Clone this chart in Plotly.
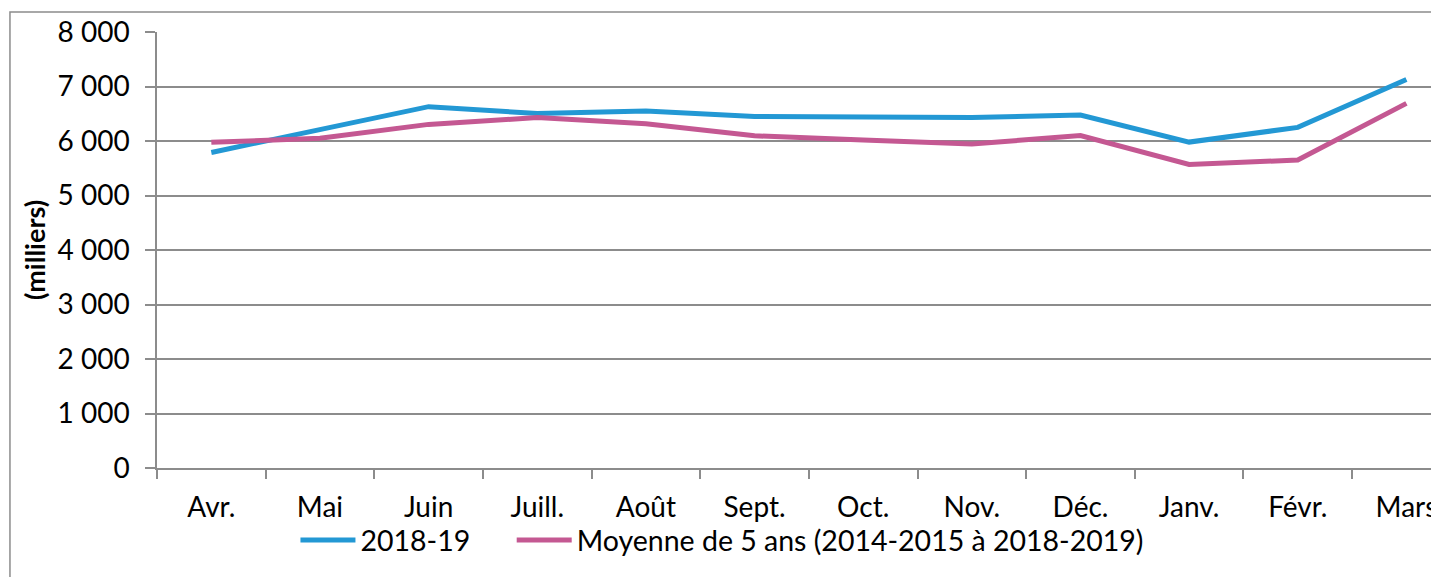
import plotly.graph_objects as go

months = ["Avr.", "Mai", "Juin", "Juill.", "Août", "Sept.", "Oct.", "Nov.", "Déc.", "Janv.", "Févr.", "Mars"]
serie_2018_19 = [5790, 6210, 6630, 6505, 6550, 6450, 6435, 6430, 6475, 5980, 6250, 7130]
moyenne_5_ans = [5975, 6050, 6305, 6430, 6315, 6095, 6020, 5945, 6100, 5570, 5650, 6690]
y_ticks = [0, 1000, 2000, 3000, 4000, 5000, 6000, 7000, 8000]
y_tick_labels = ["0", "1 000", "2 000", "3 000", "4 000", "5 000", "6 000", "7 000", "8 000"]
legend_names = ["2018-19", "Moyenne de 5 ans (2014-2015 à 2018-2019)"]

FONT = "Lato"
GREY = "#8c8c8c"
PAD = "\u00a0" * 5  # visual gap between the two legend entries

fig = go.Figure()
fig.add_trace(go.Scatter(x=months, y=serie_2018_19, mode="lines", name=legend_names[0] + PAD,
                         line=dict(color="#2398d4", width=5)))
fig.add_trace(go.Scatter(x=months, y=moyenne_5_ans, mode="lines", name=legend_names[1],
                         line=dict(color="#c45892", width=5)))

# page body has an 8px margin: plot area 157..1439 x 32..468 in the window
fig.update_layout(
    width=1431, height=569,
    margin=dict(l=149, r=0, t=24, b=109),
    paper_bgcolor="white", plot_bgcolor="white",
    font=dict(family=FONT, size=28, color="black"),
    showlegend=True,
    legend=dict(orientation="h", x=0.108, xanchor="left", y=-0.166, yanchor="middle",
                font=dict(family=FONT, size=28.5, color="black"),
                itemwidth=55, tracegroupgap=0, bgcolor="rgba(0,0,0,0)"),
    xaxis=dict(type="category", range=[-0.5, 11.30], tickson="boundaries",
               showgrid=False, showline=True, linecolor=GREY, linewidth=1.5,
               ticks="outside", ticklen=9, tickcolor=GREY, tickwidth=1.5,
               ticklabelstandoff=14,
               tickfont=dict(family=FONT, size=28), zeroline=False, fixedrange=True),
    yaxis=dict(range=[0, 8000], tickvals=y_ticks, ticktext=y_tick_labels,
               showgrid=True, gridcolor=GREY, gridwidth=1.5,
               showline=True, linecolor=GREY, linewidth=1.5,
               ticks="outside", ticklen=10, tickcolor=GREY, tickwidth=1.5,
               ticklabelstandoff=10,
               tickfont=dict(family=FONT, size=28), zeroline=False,
               title=dict(text="<b>(milliers)</b>", font=dict(family=FONT, size=27), standoff=4)),
    shapes=[dict(type="rect", xref="paper", yref="paper", x0=-0.1147, x1=1.2, y0=-0.4, y1=1.0459,
                 line=dict(color=GREY, width=1.5), fillcolor="rgba(0,0,0,0)", layer="below")],
)

fig.write_html("out.html")
